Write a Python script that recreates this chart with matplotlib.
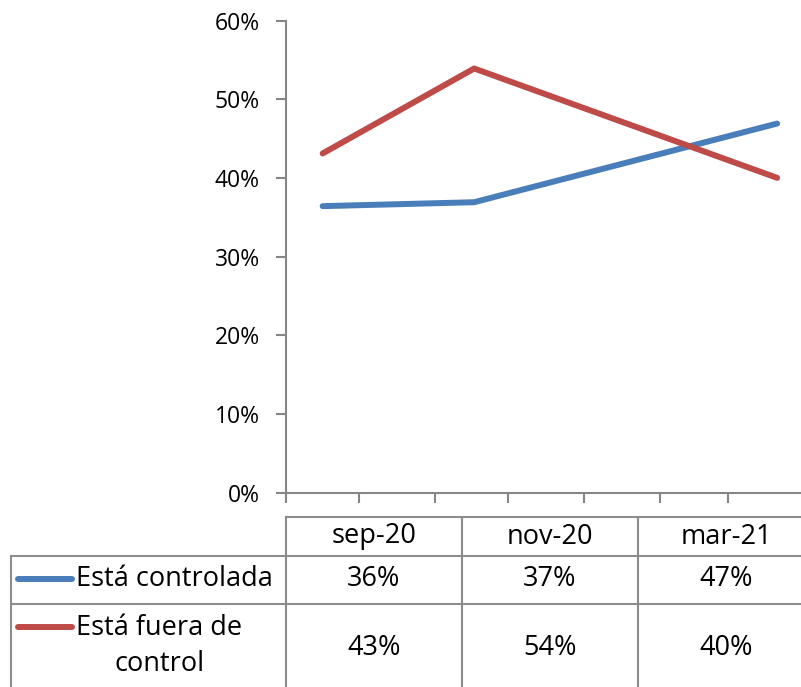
import matplotlib
matplotlib.use('Agg')
import matplotlib.pyplot as plt
import matplotlib.dates as mdates
from matplotlib.ticker import FuncFormatter
from datetime import datetime

# ---- data ----
categories = ['sep-20', 'nov-20', 'mar-21']
survey_dates = ['2020-09-16', '2020-11-17', '2021-03-21']
series_names = ['Está controlada', 'Está fuera de\ncontrol']
controlada = [36.4, 36.9, 46.9]
fuera_de_control = [43.1, 53.9, 40.0]
y_ticks = [0, 10, 20, 30, 40, 50, 60]
colors = ['#4A7EBB', '#BE4B48']

plt.rcParams['font.family'] = ['Open Sans', 'DejaVu Sans']

W, H = 801, 687
fig = plt.figure(figsize=(W / 100, H / 100), dpi=100)

x = [datetime.strptime(d, '%Y-%m-%d') for d in survey_dates]
x0 = datetime(2020, 9, 1)
x1 = datetime(2021, 4, 1)

ax_left, ax_right, ax_top, ax_bot = 286, 804, 20.5, 492.5
ax = fig.add_axes([ax_left / W, (H - ax_bot) / H, (ax_right - ax_left) / W, (ax_bot - ax_top) / H])
series = [controlada, fuera_de_control]
for vals, c in zip(series, colors):
    ax.plot(x, vals, color=c, lw=4.3, solid_capstyle='round', solid_joinstyle='round', clip_on=False)

ax.set_xlim(x0, x1)
ax.set_ylim(0, 60)
ax.set_yticks(y_ticks)
ax.yaxis.set_major_formatter(FuncFormatter(lambda v, p: f'{int(v)}%'))
ax.xaxis.set_major_locator(mdates.MonthLocator())
ax.xaxis.set_major_formatter(FuncFormatter(lambda v, p: ''))
for s in ['top', 'right']:
    ax.spines[s].set_visible(False)
for s in ['left', 'bottom']:
    ax.spines[s].set_color('#868686')
    ax.spines[s].set_linewidth(1.5)
ax.tick_params(axis='both', direction='out', length=7, width=1.5, color='#868686')
ax.tick_params(axis='y', labelsize=16.5, pad=12, labelcolor='black')

# ---- data table ----
tb = fig.add_axes([0, 0, 1, 1], zorder=-1)
tb.set_xlim(0, W)
tb.set_ylim(H, 0)
tb.axis('off')

col_left = 286
col_w = 176
lab_left = 11
row_edges = [517, 556, 604, 692]
gc = '#8C8C8C'
glw = 1.5
ncol = len(categories)
right = col_left + ncol * col_w
# horizontal lines
tb.plot([col_left, right], [row_edges[0]] * 2, color=gc, lw=glw)
for r in row_edges[1:]:
    tb.plot([lab_left, right], [r, r], color=gc, lw=glw)
# vertical lines
tb.plot([lab_left, lab_left], [row_edges[1], row_edges[-1]], color=gc, lw=glw)
for i in range(ncol + 1):
    xx = col_left + i * col_w
    tb.plot([xx, xx], [row_edges[0], row_edges[-1]], color=gc, lw=glw)

fs = 19.5
label_y = [579, 648]
for i, cat in enumerate(categories):
    tb.text(col_left + (i + 0.5) * col_w, (row_edges[0] + row_edges[1]) / 2, cat,
            ha='center', va='center', fontsize=fs)
for r, (vals, name, c) in enumerate(zip(series, series_names, colors)):
    cy = label_y[r]
    for i, v in enumerate(vals):
        tb.text(col_left + (i + 0.5) * col_w, cy, f'{round(v)}%', ha='center', va='center', fontsize=fs)
    key_y = 579 if r == 0 else 627
    tb.plot([18, 72], [key_y, key_y], color=c, lw=4.3, solid_capstyle='round')
    if r == 0:
        tb.text(76, cy, name, ha='left', va='center', fontsize=fs)
    else:
        tb.text(76, 646, name, ha='left', va='center', fontsize=fs, multialignment='center',
                linespacing=1.4)

fig.savefig('out.png', dpi=100)
